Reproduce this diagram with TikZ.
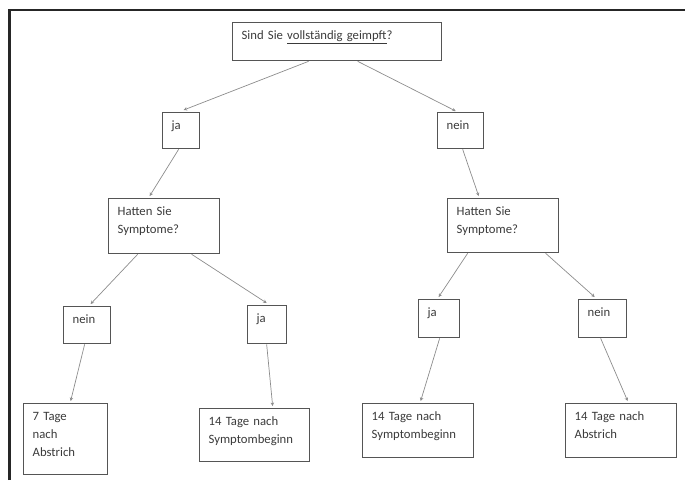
\documentclass[tikz,border=0pt]{standalone}
\usepackage{fontspec}
\setmainfont{Carlito}
\usetikzlibrary{arrows.meta}
\definecolor{boxgray}{HTML}{555555}
\definecolor{arrowgray}{HTML}{8C8C8C}
\definecolor{textgray}{HTML}{3A3A3A}
\begin{document}
\begin{tikzpicture}[x=1pt,y=-1pt,
  box/.style={draw=boxgray,line width=1.3pt,anchor=north west,align=left,
    inner xsep=9pt,inner ysep=8pt,text height=9pt,text=textgray,
    font=\fontsize{12.7}{18}\selectfont},
  arr/.style={draw=arrowgray,line width=.7pt,-{Stealth[length=3.5pt,width=3.5pt]}}]
  \useasboundingbox (0,0) rectangle (685,480);
  % frame
  \draw[line width=2.5pt,color=black!85] (9.5,480) -- (9.5,10) -- (685,10);
  % question
  \node[box,text width=191pt,text depth=13pt] (geimpft) at (232,22) {Sind Sie \underline{vollständig geimpft}?};
  \node[box,text width=19pt,text depth=11pt] (ja) at (162,112) {ja};
  \node[box,text width=28pt,text depth=11pt] (nein) at (437,112) {nein};
  \node[box,text width=93pt,text depth=30pt] (symptJa) at (108,198) {Hatten Sie\\Symptome?};
  \node[box,text width=93pt,text depth=29pt] (symptNein) at (447,198) {Hatten Sie\\Symptome?};
  % answers
  \node[box,text width=29pt,text depth=12pt] (jaNein) at (63,306) {nein};
  \node[box,text width=21pt,text depth=13pt] (jaJa) at (247,305) {ja};
  \node[box,text width=23pt,text depth=13pt] (neinJa) at (418,299) {ja};
  \node[box,text width=30pt,text depth=13pt] (neinNein) at (578,299) {nein};
  % results
  \node[box,text width=66pt,text depth=46pt] (sieben) at (23,403) {7 Tage\\nach\\Abstrich};
  \node[box,text width=92pt,text depth=28pt] (beginnL) at (199,408) {14 Tage nach\\Symptombeginn};
  \node[box,text width=93pt,text depth=29pt] (beginnR) at (362,403) {14 Tage nach\\Symptombeginn};
  \node[box,text width=93pt,text depth=29pt] (abstrich) at (565,403) {14 Tage nach\\Abstrich};
  % arrows
  \draw[arr] ([xshift=-28.5pt]geimpft.south) -- ([xshift=2.5pt,yshift=2pt]ja.north);
  \draw[arr] ([xshift=20.5pt]geimpft.south) -- ([xshift=-5pt,yshift=1pt]nein.north);
  \draw[arr] ([xshift=-2.5pt]ja.south) -- ([xshift=-14.5pt,yshift=2pt]symptJa.north);
  \draw[arr] ([xshift=2pt]nein.south) -- ([xshift=-24.5pt,yshift=2pt]symptNein.north);
  \draw[arr] ([xshift=-26.5pt]symptJa.south) -- ([xshift=3.5pt,yshift=2pt]jaNein.north);
  \draw[arr] ([xshift=27.5pt]symptJa.south) -- ([xshift=-0.5pt,yshift=2pt]jaJa.north);
  \draw[arr] ([xshift=-35.5pt]symptNein.south) -- ([xshift=-0.5pt,yshift=2pt]neinJa.north);
  \draw[arr] ([xshift=42.5pt]symptNein.south) -- ([xshift=-8pt,yshift=2pt]neinNein.north);
  \draw[arr] ([xshift=-2.5pt]jaNein.south) -- ([xshift=5pt,yshift=2pt]sieben.north);
  \draw[arr] ([xshift=-0.5pt]jaJa.south) -- ([xshift=18pt,yshift=2pt]beginnL.north);
  \draw[arr] ([xshift=0.5pt]neinJa.south) -- ([xshift=2.5pt,yshift=2pt]beginnR.north);
  \draw[arr] ([xshift=-2pt]neinNein.south) -- ([xshift=6.5pt,yshift=2pt]abstrich.north);
\end{tikzpicture}
\end{document}
